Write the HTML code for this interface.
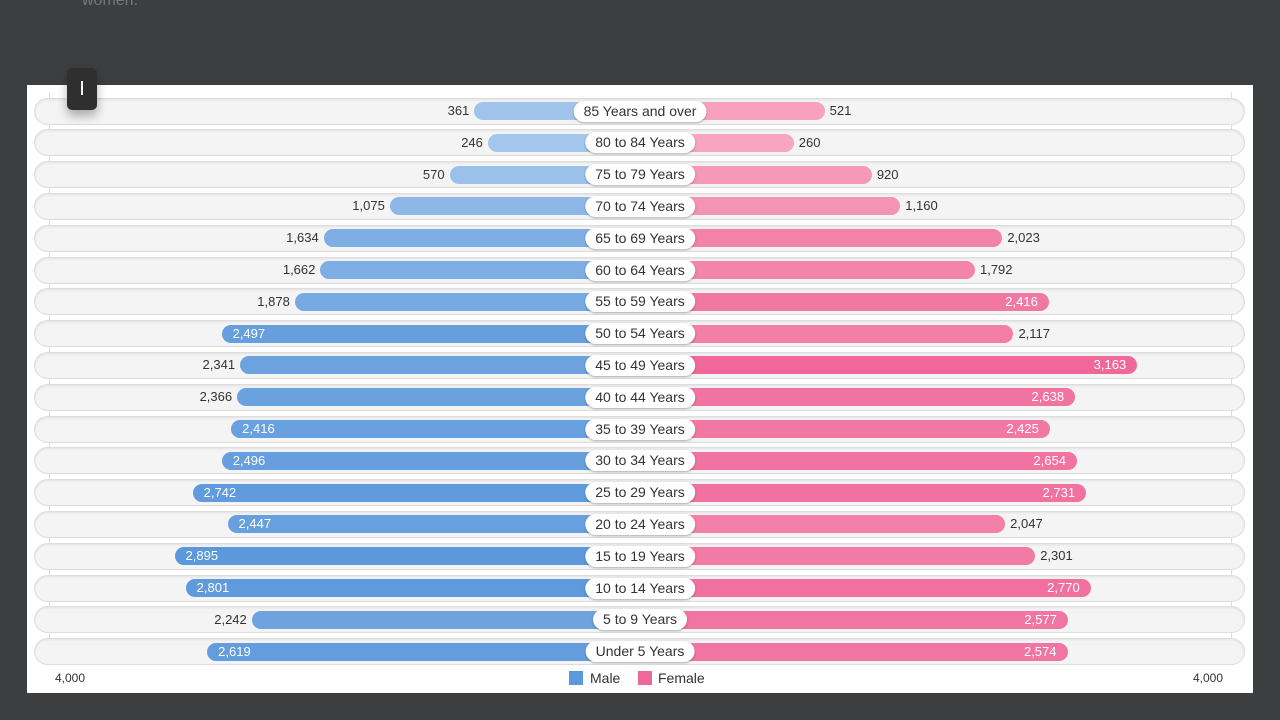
<!DOCTYPE html>
<html><head><meta charset="utf-8"><style>
body{margin:0;width:1280px;height:720px;background:#3d3e3f;position:relative;overflow:hidden;font-family:"Liberation Sans",sans-serif}
#panel{position:absolute;left:27px;top:85px;width:1226px;height:608px;background:#fff}
.a{position:absolute}
.track{position:absolute;left:34px;width:1211px;height:27px;background:#f4f4f4;border:1px solid #ddd;border-radius:14px;box-sizing:border-box;box-shadow:inset 0 1px 2px rgba(0,0,0,.08)}
.bar{position:absolute;height:18px;border-radius:9px}
.lbl{position:absolute;height:21px;line-height:21px;background:#fff;border-radius:11px;font-size:14px;color:#333;text-align:center;box-shadow:0 1px 2px rgba(0,0,0,.3);white-space:nowrap;padding:0 10px;transform:translateX(-50%)}
.v{position:absolute;font-size:13px;line-height:18px;color:#333;white-space:nowrap}
.w{color:#fff}
</style></head><body>
<div class="a" style="left:82px;top:-8px;color:#777;font-size:16px">women.</div>
<div id="panel"></div>
<div class="a" style="left:49px;top:92px;width:1px;height:572px;background:#ddd"></div>
<div class="a" style="left:1231px;top:92px;width:1px;height:572px;background:#ddd"></div>
<div id="c"></div>
<div class="a" style="left:67px;top:68px;width:30px;height:42px;background:#2f2f2f;border-radius:5px;box-shadow:0 6px 10px rgba(0,0,0,.3)"><div style="position:absolute;left:14px;top:13px;width:2px;height:14px;background:#fff"></div></div>
<div class="a" style="left:55px;top:671px;font-size:12px;color:#333">4,000</div>
<div class="a" style="left:1193px;top:671px;font-size:12px;color:#333">4,000</div>
<div class="a" style="left:569px;top:671px;width:14px;height:14px;background:#5b98dc"></div>
<div class="a" style="left:590px;top:670px;font-size:14px;color:#333">Male</div>
<div class="a" style="left:638px;top:671px;width:14px;height:14px;background:#f0689a"></div>
<div class="a" style="left:658px;top:670px;font-size:14px;color:#333">Female</div>
<script>
var d=[["85 Years and over",361,521],["80 to 84 Years",246,260],["75 to 79 Years",570,920],["70 to 74 Years",1075,1160],["65 to 69 Years",1634,2023],["60 to 64 Years",1662,1792],["55 to 59 Years",1878,2416],["50 to 54 Years",2497,2117],["45 to 49 Years",2341,3163],["40 to 44 Years",2366,2638],["35 to 39 Years",2416,2425],["30 to 34 Years",2496,2654],["25 to 29 Years",2742,2731],["20 to 24 Years",2447,2047],["15 to 19 Years",2895,2301],["10 to 14 Years",2801,2770],["5 to 9 Years",2242,2577],["Under 5 Years",2619,2574]];
function mix(a,b,t){return "rgb("+a.map((x,i)=>Math.round(x+(b[i]-x)*t)).join(",")+")"}
function f(n){return n.toLocaleString("en-US")}
var h="";
d.forEach(function(r,i){
 var cy=111+i*31.8;
 h+='<div class="track" style="top:'+(cy-13.5)+'px"></div>';
 var lm=123+0.1183*r[1], rf=123+0.1183*r[2];
 var tm=Math.min(1,r[1]/2900), tf=Math.min(1,r[2]/3163);
 h+='<div class="bar" style="left:'+(640-lm)+'px;width:'+lm+'px;top:'+(cy-9)+'px;background:'+mix([170,202,237],[92,152,220],tm)+'"></div>';
 h+='<div class="bar" style="left:640px;width:'+rf+'px;top:'+(cy-9)+'px;background:'+mix([248,172,196],[240,104,154],tf)+'"></div>';
 if(r[1]>=2400) h+='<div class="v w" style="left:'+(640-lm+11)+'px;top:'+(cy-9)+'px">'+f(r[1])+'</div>';
 else h+='<div class="v" style="right:'+(1280-(640-lm)+5)+'px;top:'+(cy-9)+'px">'+f(r[1])+'</div>';
 if(r[2]>=2400) h+='<div class="v w" style="right:'+(1280-(640+rf)+11)+'px;top:'+(cy-9)+'px">'+f(r[2])+'</div>';
 else h+='<div class="v" style="left:'+(640+rf+5)+'px;top:'+(cy-9)+'px">'+f(r[2])+'</div>';
 h+='<div class="lbl" style="left:640px;top:'+(cy-10.5)+'px">'+r[0]+'</div>';
});
document.getElementById("c").innerHTML=h;
</script>
</body></html>
